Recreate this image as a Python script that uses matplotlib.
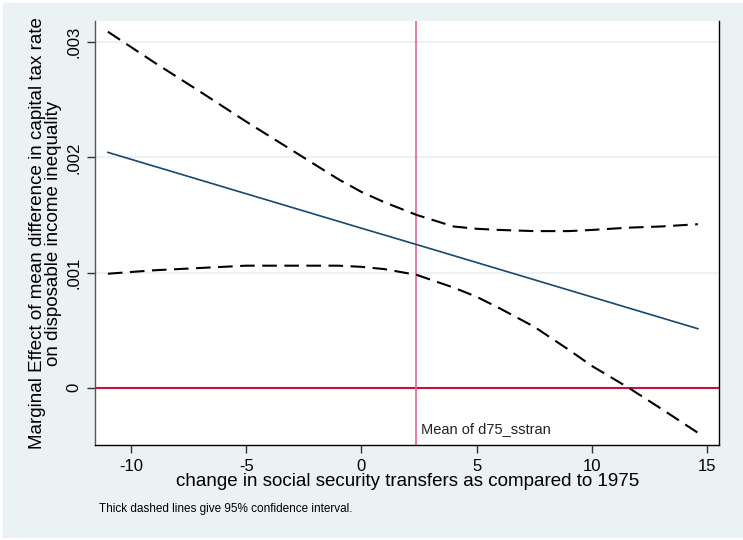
import matplotlib
matplotlib.use('Agg')
import matplotlib.pyplot as plt
from matplotlib.patches import Rectangle

plt.rcParams['font.family'] = ['Liberation Sans', 'DejaVu Sans']

# marginal effect and 95% bounds over the transfer change
x_ci = [-11, -9, -7, -5, -3, -1, 0, 1, 2.4, 4, 5, 6, 7.5, 9, 10, 11.6, 13, 14.6]
upper = [0.00309, 0.002825, 0.00257, 0.00231, 0.00206, 0.00181, 0.00170, 0.00161,
         0.00150, 0.00140, 0.00138, 0.00137, 0.00136, 0.00136, 0.00137, 0.00139,
         0.00140, 0.00142]
lower = [0.00099, 0.00102, 0.00104, 0.00106, 0.00106, 0.00106, 0.00105, 0.00103,
         0.00098, 0.00087, 0.00079, 0.00069, 0.00053, 0.00033, 0.00019, 0.0,
         -0.00018, -0.00039]
x_me = [-11, 0, 2.4, 14.6]
me = [0.002043, 0.001385, 0.001243, 0.000513]
mean_sstran = 2.38

xticks = [-10, -5, 0, 5, 10, 15]
yticks = [0, 0.001, 0.002, 0.003]
ytick_labels = ['0', '.001', '.002', '.003']

bg = '#EAF2F3'
fig = plt.figure(figsize=(7.43, 5.40), dpi=100, facecolor='white')
fig.patches.append(Rectangle((3 / 743, 3 / 540), 740 / 743, 534 / 540,
                             transform=fig.transFigure, color=bg, zorder=-10))

ax = fig.add_axes([95 / 743, 1 - 445 / 540, 624.3 / 743, 424 / 540])
ax.set_facecolor('white')

ax.set_xlim(-11.56, 15.53)
ax.set_ylim(-0.000496, 0.003183)

for t in yticks:
    ax.axhline(t, color=bg, lw=1.5, zorder=0)

ax.plot(x_me, me, color='#1A476F', lw=1.2, zorder=3)
for band in (upper, lower):
    ln, = ax.plot(x_ci, band, color='black', lw=1.5, zorder=4)
    ln.set_dashes([7, 3.6])

ax.axhline(0, color='#C8103E', lw=1.5, zorder=2)
ax.axvline(mean_sstran, color='#E0688A', lw=1.2, zorder=2)
ax.text(mean_sstran + 0.2, -0.00042, 'Mean of d75_sstran', fontsize=10.5,
        ha='left', va='bottom', color='#222222')

ax.set_xticks(xticks)
ax.set_xticklabels([str(t) for t in xticks], fontsize=12)
ax.set_yticks(yticks)
ax.set_yticklabels(ytick_labels, fontsize=12, rotation=90, va='center')
ax.tick_params(axis='both', length=6, width=1, color='#333333', pad=4)

ax.spines['top'].set_visible(False)
ax.spines['left'].set_color('#555555')
ax.spines['bottom'].set_color('black')
ax.spines['right'].set_color('black')
for s in ax.spines.values():
    s.set_linewidth(1)

ax.set_xlabel('change in social security transfers as compared to 1975',
              fontsize=13.5, labelpad=-1)
ax.set_ylabel('Marginal Effect of mean difference in capital tax rate\n'
              'on disposable income inequality', fontsize=13.5, linespacing=0.92,
              labelpad=3)

fig.text(99 / 743, 1 - 509 / 540, 'Thick dashed lines give 95% confidence interval.',
         fontsize=8.5, ha='left', va='center')

fig.savefig('out.png', dpi=100, facecolor=fig.get_facecolor())
